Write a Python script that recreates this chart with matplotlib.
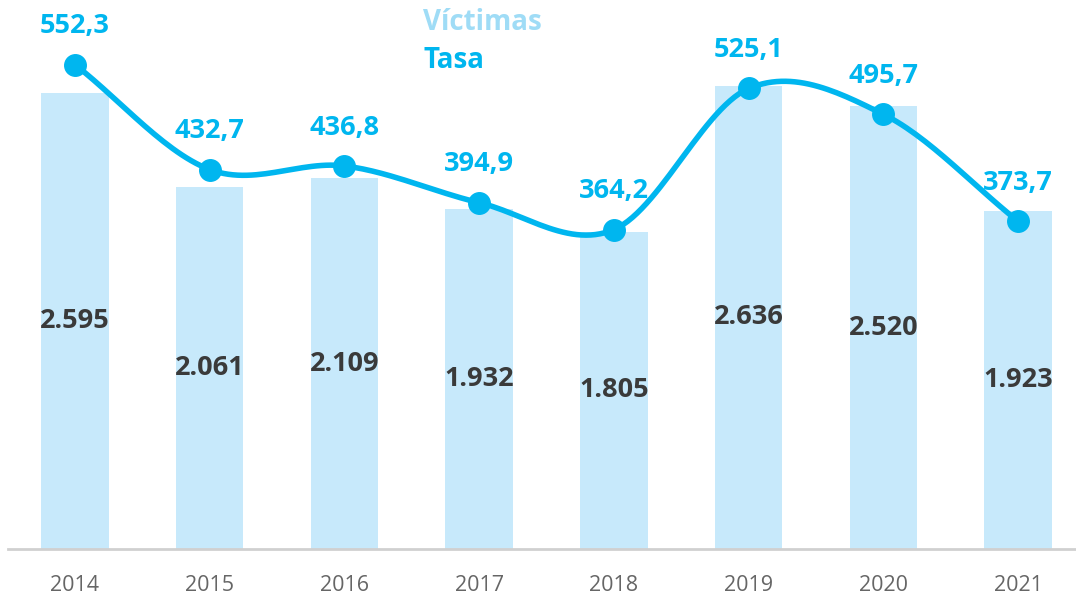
"""Víctimas y tasa por año."""
import numpy as np
import matplotlib
matplotlib.use('Agg')
import matplotlib.pyplot as plt

years = ['2014', '2015', '2016', '2017', '2018', '2019', '2020', '2021']
victimas = [2595, 2061, 2109, 1932, 1805, 2636, 2520, 1923]
tasa = [552.3, 432.7, 436.8, 394.9, 364.2, 525.1, 495.7, 373.7]

BAR_COLOR = '#c7e9fb'
LINE_COLOR = '#00b6ef'
LEG_COLOR = '#9fdcf6'
TEXT_DARK = '#3a3a3a'

plt.rcParams['font.family'] = ['Open Sans', 'DejaVu Sans']


def fmt_int(v):
    return f'{v:,}'.replace(',', '.')


def fmt_dec(v):
    return f'{v:.1f}'.replace('.', ',')


def catmull_rom(x, y, n=30):
    """Smooth curve through the points (drawing only)."""
    x = np.asarray(x, float)
    y = np.asarray(y, float)
    px = np.concatenate([[2 * x[0] - x[1]], x, [2 * x[-1] - x[-2]]])
    py = np.concatenate([[2 * y[0] - y[1]], y, [2 * y[-1] - y[-2]]])
    xs, ys = [], []
    t = np.linspace(0, 1, n)
    for i in range(1, len(px) - 2):
        for p, out in ((px, xs), (py, ys)):
            p0, p1, p2, p3 = p[i - 1], p[i], p[i + 1], p[i + 2]
            out.extend(0.5 * ((2 * p1) + (-p0 + p2) * t
                              + (2 * p0 - 5 * p1 + 4 * p2 - p3) * t ** 2
                              + (-p0 + 3 * p1 - 3 * p2 + p3) * t ** 3))
    return np.array(xs), np.array(ys)


fig = plt.figure(figsize=(10.76, 5.95), dpi=100)
ax = fig.add_axes([8 / 1076, 1 - 549 / 595, 1 - 8 / 1076, 549 / 595])
x = np.arange(len(years))

ax.bar(x, victimas, width=0.5, color=BAR_COLOR, zorder=1)
for xi, v in zip(x, victimas):
    ax.text(xi, v / 2, fmt_int(v), ha='center', va='center',
            fontsize=19.5, fontweight='bold', color=TEXT_DARK)

ax.set_xlim(-0.497, 7.43)
ax.set_ylim(0, 3124)
ax.set_xticks(x)
ax.set_xticklabels(years, fontsize=15.5, color='#666666')
ax.tick_params(axis='x', length=0, pad=19)
ax.set_yticks([])
for s in ['top', 'right', 'left']:
    ax.spines[s].set_visible(False)
ax.spines['bottom'].set_color('#d0d0d0')
ax.spines['bottom'].set_linewidth(2)

ax2 = ax.twinx()
ax2.set_ylim(0, 626)
ax2.set_yticks([])
for s in ax2.spines.values():
    s.set_visible(False)
sx, sy = catmull_rom(x, tasa)
ax2.plot(sx, sy, color=LINE_COLOR, lw=4, solid_capstyle='round', zorder=3)
ax2.plot(x, tasa, 'o', color=LINE_COLOR, ms=15.5, zorder=4)
for xi, v in zip(x, tasa):
    ax2.annotate(fmt_dec(v), (xi, v), xytext=(0, 27.5), textcoords='offset points',
                 ha='center', va='center', fontsize=19.5, fontweight='bold',
                 color=LINE_COLOR)

fig.text(423 / 1076, 1 - 23 / 595, 'Víctimas', ha='left', va='center',
         fontsize=20, fontweight='bold', color=LEG_COLOR)
fig.text(423 / 1076, 1 - 61 / 595, 'Tasa', ha='left', va='center',
         fontsize=20, fontweight='bold', color=LINE_COLOR)

fig.savefig('out.png', dpi=100)
